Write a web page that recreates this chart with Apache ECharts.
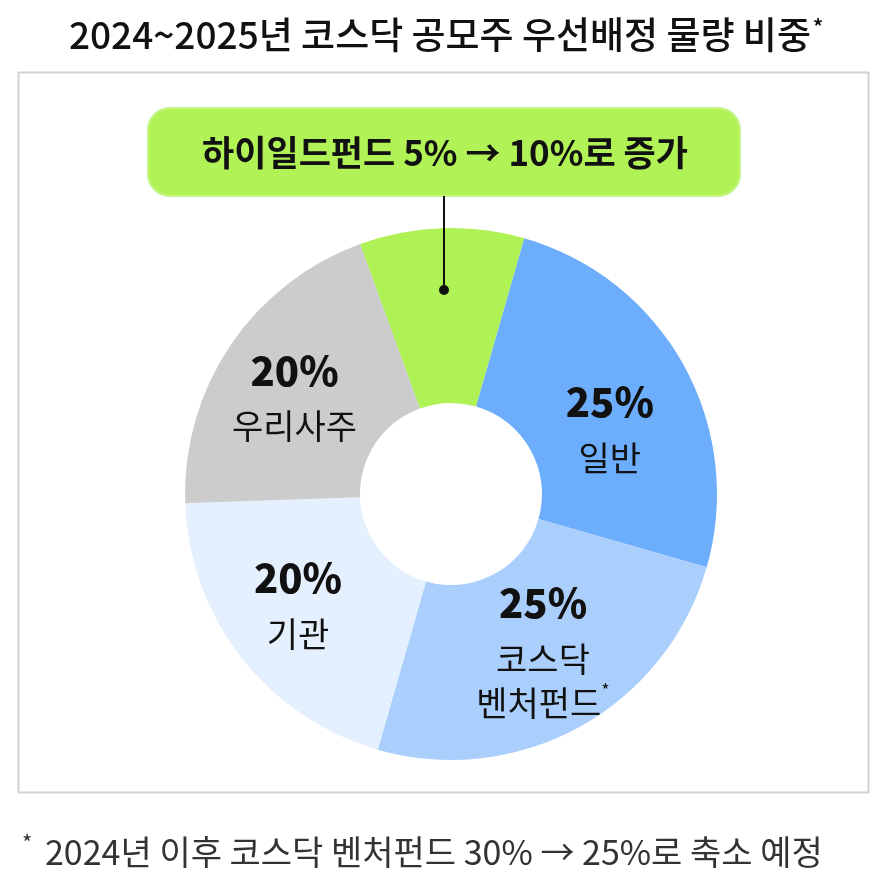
<!DOCTYPE html>
<html>
<head>
<meta charset="utf-8">
<script src="https://cdn.jsdelivr.net/npm/echarts@6/dist/echarts.min.js"></script>
<style>
  html, body { margin: 0; padding: 0; background: #fff; }
  #chart { width: 892px; height: 887px; }
</style>
</head>
<body>
<div id="chart"></div>
<script>
// 데이터
var names = ['하이일드펀드', '일반', '코스닥\n벤처펀드', '기관', '우리사주'];
var values = [10, 25, 25, 20, 20];
var colors = ['#aef255', '#6daefc', '#abcffc', '#e4f0fe', '#cccccc'];
var showLabel = [false, true, true, true, true];
var titleText = '2024~2025년 코스닥 공모주 우선배정 물량 비중';
var calloutText = '하이일드펀드 5% → 10%로 증가';
var noteText = '2024년 이후 코스닥 벤처펀드 30% → 25%로 축소 예정';

var FONT = '"Noto Sans CJK KR", "Noto Sans", sans-serif';

// 라벨 위치 미세조정
var labelShift = [[0, 0], [0, 18], [4, -6], [-10, -6], [-6, 0]];

var chart = echarts.init(document.getElementById('chart'), null, {renderer: 'canvas'});

var pieData = names.map(function(n, i){
  return {
    name: n,
    value: values[i],
    itemStyle: {color: colors[i]},
    label: {show: showLabel[i]}
  };
});

var option = {
  animation: false,
  backgroundColor: '#fff',
  title: {
    text: '{t|' + titleText + '}{s|*}',
    left: 'center',
    top: 11,
    textStyle: {
      rich: {
        t: {fontFamily: FONT, fontSize: 37, fontWeight: 500, color: '#111'},
        s: {fontFamily: FONT, fontSize: 20, color: '#111', verticalAlign: 'top', padding: [0, 0, 16, 2]}
      }
    }
  },
  graphic: [
    // 외곽 박스
    {type: 'rect', shape: {x: 18.5, y: 72.5, width: 850, height: 720}, style: {fill: 'none', stroke: '#d2d2d2', lineWidth: 2}, z: 0},
    // 콜아웃
    {type: 'rect', shape: {x: 148, y: 108, width: 592, height: 88, r: 22}, style: {fill: '#b1f257', stroke: '#c4f584', lineWidth: 2}, z: 10},
    {type: 'text', x: 445, y: 153, style: {text: calloutText, font: 'bold 35px ' + FONT, fill: '#111', align: 'center', verticalAlign: 'middle'}, z: 11},
    {type: 'line', shape: {x1: 444, y1: 196, x2: 444, y2: 290}, style: {stroke: '#111', lineWidth: 2}, z: 10},
    {type: 'circle', shape: {cx: 444, cy: 290, r: 5}, style: {fill: '#111'}, z: 10},
    // 각주
    {type: 'text', x: 22, y: 832, style: {text: '*', font: '22px ' + FONT, fill: '#333', verticalAlign: 'top'}, z: 10},
    {type: 'text', x: 45, y: 852, style: {text: noteText, font: '34px ' + FONT, fill: '#333', verticalAlign: 'middle'}, z: 10}
  ],
  series: [{
    type: 'pie',
    center: [451, 494],
    radius: [91, 266],
    startAngle: 110,
    clockwise: true,
    avoidLabelOverlap: false,
    itemStyle: {borderWidth: 0},
    emphasis: {disabled: true},
    labelLine: {show: false},
    label: {
      position: 'inside',
      formatter: function(p){
        var nm = p.name;
        if (nm.indexOf('벤처') >= 0) {
          return '{p|' + p.value + '%}\n{n|코스닥}\n{n|벤처펀드}{s|*}';
        }
        return '{p|' + p.value + '%}\n{n|' + nm + '}';
      },
      rich: {
        p: {fontFamily: FONT, fontSize: 40, fontWeight: 900, color: '#111', lineHeight: 68, align: 'center'},
        n: {fontFamily: FONT, fontSize: 34, color: '#111', lineHeight: 44, align: 'center'},
        s: {fontFamily: FONT, fontSize: 18, color: '#111', verticalAlign: 'top', lineHeight: 44}
      }
    },
    labelLayout: function(params){
      var d = labelShift[params.dataIndex] || [0, 0];
      return {dx: d[0], dy: d[1]};
    },
    data: pieData
  }]
};

chart.setOption(option);
</script>
</body>
</html>
